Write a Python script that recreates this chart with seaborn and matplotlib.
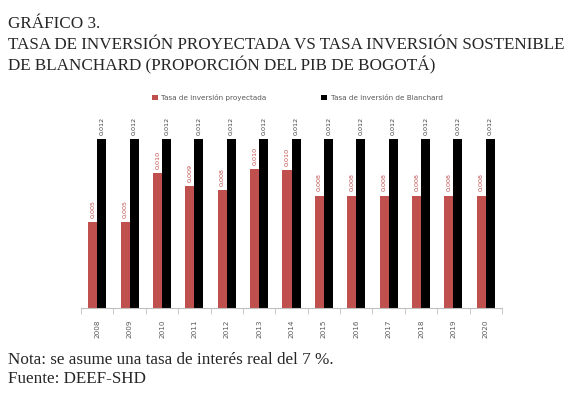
import pandas as pd
import matplotlib.pyplot as plt
import seaborn as sns

years = ["2008", "2009", "2010", "2011", "2012", "2013", "2014",
         "2015", "2016", "2017", "2018", "2019", "2020"]
proyectada = [0.0061, 0.0061, 0.0096, 0.0087, 0.0084, 0.0099, 0.0098,
              0.0080, 0.0080, 0.0080, 0.0080, 0.0080, 0.0080]
proyectada_labels = ["0,005", "0,005", "0,010", "0,009", "0,008", "0,010", "0,010",
                     "0,008", "0,008", "0,008", "0,008", "0,008", "0,008"]
blanchard = [0.012] * 13
blanchard_labels = ["0,012"] * 13

serie_a = "Tasa de inversión proyectada"
serie_b = "Tasa de inversión de Blanchard"

df = pd.DataFrame({
    "year": years * 2,
    "valor": proyectada + blanchard,
    "serie": [serie_a] * len(years) + [serie_b] * len(years),
})

sns.set_style("white")
fig = plt.figure(figsize=(5.75, 3.95), dpi=100)
ax = fig.add_axes([0.141, 0.220, 0.732, 0.527])

sns.barplot(data=df, x="year", y="valor", hue="serie",
            palette=["#C0504D", "#000000"], width=0.56, saturation=1,
            linewidth=0, ax=ax)

ax.bar_label(ax.containers[0], labels=proyectada_labels, rotation=90,
             fontsize=4.6, color="#C0504D", padding=3)
ax.bar_label(ax.containers[1], labels=blanchard_labels, rotation=90,
             fontsize=4.6, color="#404040", padding=3)

ax.set_ylim(0, 0.0148)
ax.set_xlim(-0.5, len(years) - 0.5)
ax.set_yticks([])
ax.set_xlabel("")
ax.set_ylabel("")
for s in ["top", "right", "left"]:
    ax.spines[s].set_visible(False)
ax.spines["bottom"].set_color("#BFBFBF")
ax.spines["bottom"].set_linewidth(0.8)

ax.set_xticks(range(len(years)))
ax.set_xticklabels(years, rotation=90, fontsize=5.2, color="#595959")
ax.tick_params(axis="x", which="major", length=0, pad=8)
ax.set_xticks([i + 0.5 for i in range(-1, len(years))], minor=True)
ax.tick_params(axis="x", which="minor", length=4, color="#BFBFBF",
               width=0.6, bottom=True)

ax.legend(loc="upper center", bbox_to_anchor=(0.514, 1.06), ncol=2,
          frameon=False, fontsize=5.2, handlelength=0.75, handleheight=0.75,
          columnspacing=7.6, handletextpad=0.5, labelcolor="#595959")

# texto del encabezado y la nota, en serif
serif = ["Liberation Serif", "DejaVu Serif"]
fs = 12.3
fig.text(0.014, 0.929, "GRÁFICO 3.", family=serif, fontsize=fs, va="baseline")
fig.text(0.014, 0.876,
         "TASA DE INVERSIÓN PROYECTADA VS TASA INVERSIÓN SOSTENIBLE",
         family=serif, fontsize=fs, va="baseline")
fig.text(0.014, 0.823, "DE BLANCHARD (PROPORCIÓN DEL PIB DE BOGOTÁ)",
         family=serif, fontsize=fs, va="baseline")
fig.text(0.014, 0.078, "Nota: se asume una tasa de interés real del 7 %.",
         family=serif, fontsize=fs, va="baseline")
fig.text(0.014, 0.031, "Fuente: DEEF-SHD", family=serif, fontsize=fs,
         va="baseline")

fig.savefig("out.png", dpi=100)
